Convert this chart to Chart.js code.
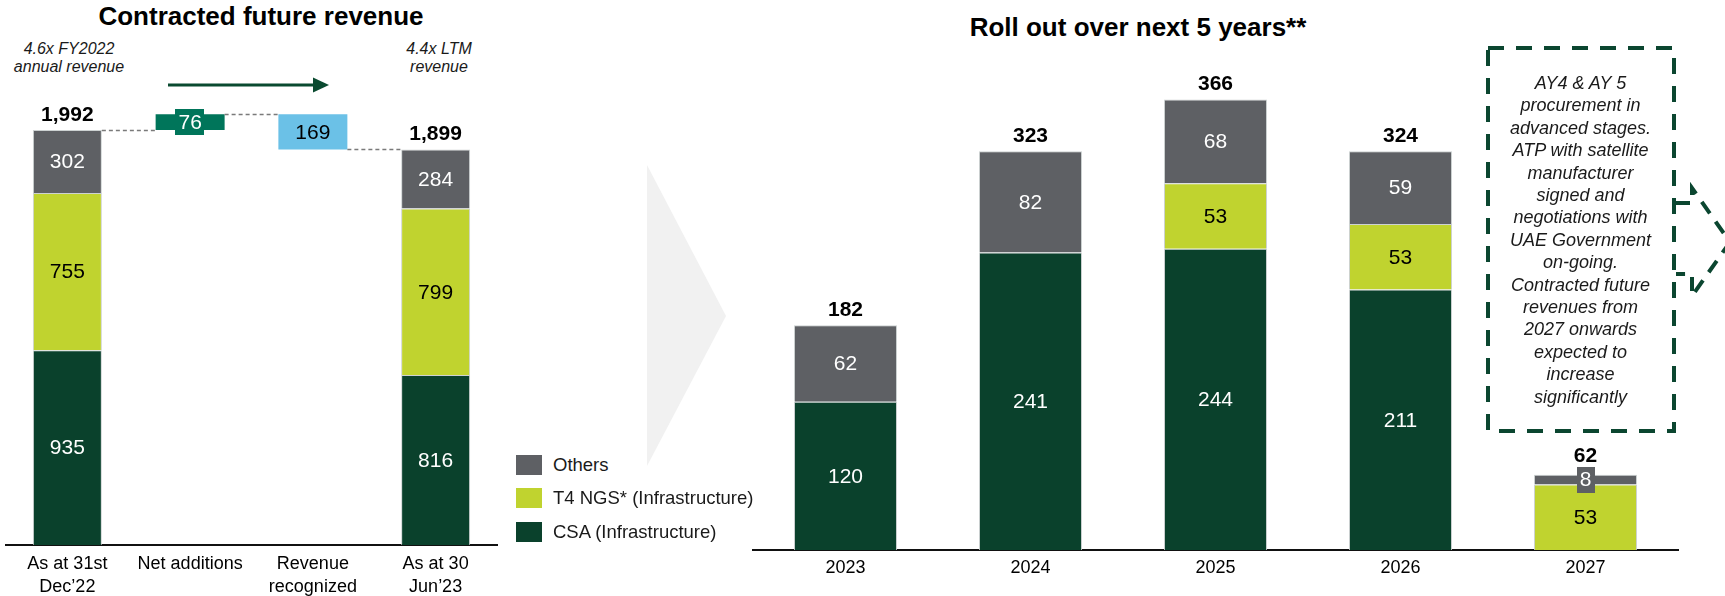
<!DOCTYPE html>
<html>
<head>
<meta charset="utf-8">
<script src="https://cdn.jsdelivr.net/npm/chart.js@4.4.1/dist/chart.umd.min.js"></script>
<style>
html,body{margin:0;padding:0;background:#fff;}
body{width:1725px;height:596px;position:relative;overflow:hidden;font-family:"Liberation Sans",Arial,sans-serif;color:#000;}
canvas{position:absolute;top:0;}
#cLeft{left:0;}
#cRight{left:740px;}
.title{position:absolute;font-weight:bold;font-size:26px;line-height:30px;white-space:nowrap;transform:translateX(-50%);}
.note{position:absolute;font-style:italic;font-size:16px;line-height:18px;text-align:center;white-space:nowrap;transform:translateX(-50%);color:#1a1a1a;}
.box-text{position:absolute;left:1490px;width:181px;top:72px;font-style:italic;font-size:18px;line-height:22.4px;text-align:center;color:#1a1a1a;white-space:nowrap;}
.leg{position:absolute;left:516px;font-size:18.5px;line-height:20px;color:#1a1a1a;white-space:nowrap;}
.leg span{display:inline-block;width:26px;height:20px;vertical-align:top;margin-right:11px;}
svg{position:absolute;left:0;top:0;}
</style>
</head>
<body>
<svg width="1725" height="596">
  <polygon points="647,165 726,316 647,466" fill="#f1f1f1"/>
  <line x1="168" y1="85" x2="315" y2="85" stroke="#0a4a30" stroke-width="3"/>
  <polygon points="313,77.5 329,85 313,92.5" fill="#0a4a30"/>
  <rect x="1488" y="48" width="186" height="383" fill="none" stroke="#0b4630" stroke-width="4" stroke-dasharray="16 12"/>
  <polyline points="1676,203 1692,203 1692,188 1730,242 1692,296 1692,274 1676,274" fill="none" stroke="#0b4630" stroke-width="4" stroke-dasharray="14 10"/>
</svg>

<div class="title" style="left:261px;top:1px;">Contracted future revenue</div>
<div class="title" style="left:1138px;top:12px;">Roll out over next 5 years**</div>
<div class="note" style="left:69px;top:40px;">4.6x FY2022<br>annual revenue</div>
<div class="note" style="left:439px;top:40px;">4.4x LTM<br>revenue</div>

<canvas id="cLeft" width="510" height="596"></canvas>
<canvas id="cRight" width="985" height="596"></canvas>

<div class="leg" style="top:455px;"><span style="background:#5e6064"></span>Others</div>
<div class="leg" style="top:488px;"><span style="background:#c0d32f"></span>T4 NGS* (Infrastructure)</div>
<div class="leg" style="top:522px;"><span style="background:#0a412c"></span>CSA (Infrastructure)</div>

<div class="box-text">AY4 &amp; AY 5<br>procurement in<br>advanced stages.<br>ATP with satellite<br>manufacturer<br>signed and<br>negotiations with<br>UAE Government<br>on-going.<br>Contracted future<br>revenues from<br>2027 onwards<br>expected to<br>increase<br>significantly</div>

<script>
// ---------- DATA ----------
const leftCategories = [["As at 31st","Dec\u201922"], "Net additions", ["Revenue","recognized"], ["As at 30","Jun\u201923"]];
const leftCSA    = [935, null, null, 816];
const leftT4     = [755, null, null, 799];
const leftOthers = [302, null, null, 284];
const leftTotals = [1992, null, null, 1899];
const netAdditions = 76;
const revenueRecognized = 169;

const rightCategories = ["2023","2024","2025","2026","2027"];
const rightCSA    = [120, 241, 244, 211, null];
const rightT4     = [null, null, 53, 53, 53];
const rightOthers = [62, 82, 68, 59, 8];
const rightTotals = [182, 323, 366, 324, 62];

// ---------- STYLE ----------
const C_CSA = '#0a412c', C_T4 = '#c0d32f', C_OTH = '#5e6064', C_ADD = '#00755a', C_REV = '#6bc1e7';
const FONT = '"Liberation Sans", Arial, sans-serif';

// bridge (waterfall) bars built from the data
const afterAdd = leftTotals[0] + netAdditions;
const bridgeData  = [null, [leftTotals[0], afterAdd], [afterAdd - revenueRecognized, afterAdd], null];
const bridgeLabel = [null, netAdditions, revenueRecognized, null];

const segLabels = {
  id: 'segLabels',
  afterDatasetsDraw(chart, args, opts) {
    const ctx = chart.ctx;
    ctx.save();
    const n = chart.data.labels.length;
    const topY = new Array(n).fill(Infinity);
    chart.data.datasets.forEach((ds, di) => {
      const meta = chart.getDatasetMeta(di);
      meta.data.forEach((el, i) => {
        const raw = ds.data[i];
        if (raw === null || raw === undefined) return;
        const txt = ds.labelText ? ds.labelText[i] : raw;
        const p = el.getProps(['x','y','base','width'], true);
        const top = Math.min(p.y, p.base), bot = Math.max(p.y, p.base);
        topY[i] = Math.min(topY[i], top);
        if (txt === null || txt === undefined) return;
        const cy = (top + bot) / 2;
        ctx.font = `${opts.size}px ${FONT}`;
        const w = ctx.measureText(String(txt)).width;
        const bg = Array.isArray(ds.backgroundColor) ? ds.backgroundColor[i] : ds.backgroundColor;
        if (bot - top < opts.size + 3) {
          ctx.fillStyle = bg;
          ctx.fillRect(Math.round(p.x - w/2 - 3), Math.round(cy - 13), Math.round(w + 6), 26);
          topY[i] = Math.min(topY[i], cy - 13 + 4);
        }
        const col = Array.isArray(ds.labelColor) ? ds.labelColor[i] : ds.labelColor;
        ctx.fillStyle = col;
        ctx.textAlign = 'center';
        ctx.textBaseline = 'middle';
        ctx.fillText(String(txt), p.x, cy + 1);
      });
    });
    if (opts.totals) {
      ctx.font = `bold ${opts.size}px ${FONT}`;
      ctx.fillStyle = '#000';
      ctx.textAlign = 'center';
      ctx.textBaseline = 'alphabetic';
      opts.totals.forEach((t, i) => {
        if (t === null) return;
        const meta = chart.getDatasetMeta(0);
        const x = meta.data[i].x;
        ctx.fillText(t.toLocaleString('en-US'), x, topY[i] - 9);
      });
    }
    ctx.restore();
  }
};

const connectors = {
  id: 'connectors',
  afterDatasetsDraw(chart) {
    const ys = chart.scales.y;
    const bridgeMeta = chart.getDatasetMeta(3);
    const stackMeta = chart.getDatasetMeta(2);
    const e0 = stackMeta.data[0], e3 = stackMeta.data[3];
    const b1 = bridgeMeta.data[1], b2 = bridgeMeta.data[2];
    const segs = [
      [e0.x + e0.width/2, b1.x - b1.width/2, ys.getPixelForValue(leftTotals[0])],
      [b1.x + b1.width/2, b2.x - b2.width/2, ys.getPixelForValue(afterAdd)],
      [b2.x + b2.width/2, e3.x - e3.width/2, ys.getPixelForValue(leftTotals[3])]
    ];
    const ctx = chart.ctx;
    ctx.save();
    ctx.strokeStyle = '#7a7a7a';
    ctx.lineWidth = 1.5;
    ctx.setLineDash([4, 3]);
    segs.forEach(([x1, x2, y]) => {
      ctx.beginPath();
      ctx.moveTo(x1, Math.round(y) + 0.5);
      ctx.lineTo(x2, Math.round(y) + 0.5);
      ctx.stroke();
    });
    ctx.restore();
  }
};

function xAxis(h, pad) {
  return {
    stacked: true,
    grid: { display: false, drawTicks: false },
    border: { display: true, color: '#111', width: 2 },
    ticks: { color: '#000', font: { family: FONT, size: 18, lineHeight: 1.25 }, padding: pad, maxRotation: 0, autoSkip: false },
    afterFit(s) { s.height = h; }
  };
}

const segBorder = { borderWidth: 1, borderColor: 'rgba(200,205,205,0.9)' };

new Chart(document.getElementById('cLeft'), {
  type: 'bar',
  data: {
    labels: leftCategories,
    datasets: [
      { label: 'CSA (Infrastructure)', data: leftCSA, backgroundColor: C_CSA, labelColor: '#fff', ...segBorder },
      { label: 'T4 NGS* (Infrastructure)', data: leftT4, backgroundColor: C_T4, labelColor: '#000', ...segBorder },
      { label: 'Others', data: leftOthers, backgroundColor: C_OTH, labelColor: '#fff', ...segBorder },
      { label: 'Change', data: bridgeData, labelText: bridgeLabel,
        backgroundColor: ['rgba(0,0,0,0)', C_ADD, C_REV, 'rgba(0,0,0,0)'],
        labelColor: ['#fff', '#fff', '#000', '#fff'], borderWidth: 0 }
    ]
  },
  options: {
    responsive: false, animation: false,
    datasets: { bar: { categoryPercentage: 1, barPercentage: 0.562 } },
    layout: { padding: { left: 6, right: 13, top: 45, bottom: 0 } },
    scales: {
      x: xAxis(51, 8),
      y: { display: false, stacked: true, min: 0, max: 2400 }
    },
    plugins: {
      legend: { display: false }, tooltip: { enabled: false },
      segLabels: { size: 21, totals: leftTotals }
    }
  },
  plugins: [connectors, segLabels]
});

new Chart(document.getElementById('cRight'), {
  type: 'bar',
  data: {
    labels: rightCategories,
    datasets: [
      { label: 'CSA (Infrastructure)', data: rightCSA, backgroundColor: C_CSA, labelColor: '#fff', ...segBorder },
      { label: 'T4 NGS* (Infrastructure)', data: rightT4, backgroundColor: C_T4, labelColor: '#000', ...segBorder },
      { label: 'Others', data: rightOthers, backgroundColor: C_OTH, labelColor: '#fff', ...segBorder }
    ]
  },
  options: {
    responsive: false, animation: false,
    datasets: { bar: { categoryPercentage: 1, barPercentage: 0.557 } },
    layout: { padding: { left: 13, right: 47, top: 50, bottom: 0 } },
    scales: {
      x: xAxis(46, 7),
      y: { display: false, stacked: true, min: 0, max: 405 }
    },
    plugins: {
      legend: { display: false }, tooltip: { enabled: false },
      segLabels: { size: 21, totals: rightTotals }
    }
  },
  plugins: [segLabels]
});
</script>
</body>
</html>
